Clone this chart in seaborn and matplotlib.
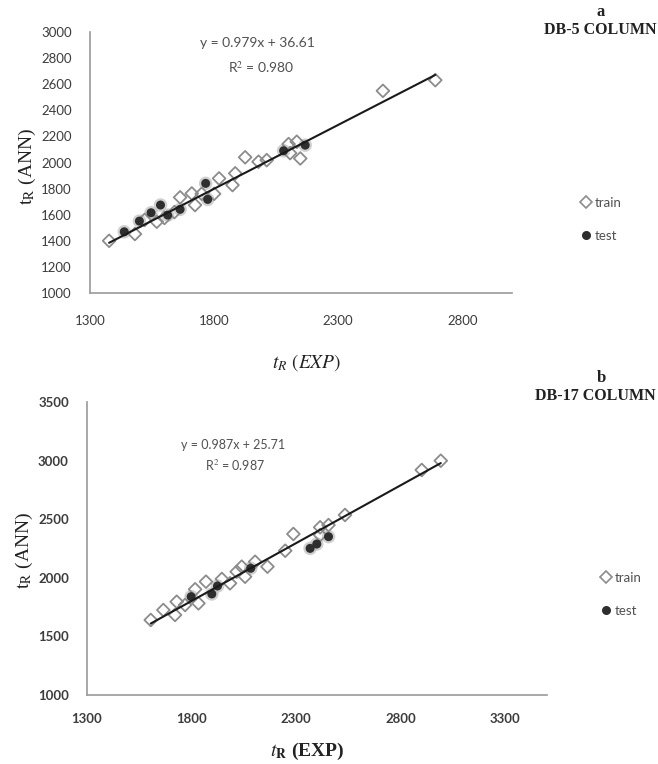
import numpy as np
import pandas as pd
import matplotlib
matplotlib.use("Agg")
import matplotlib.pyplot as plt
from matplotlib.lines import Line2D
import seaborn as sns

# ---------------- data ----------------
# Panel a : DB-5 column
a_train_exp = [1377, 1481, 1520, 1569, 1600, 1640, 1663, 1710, 1723, 1750, 1800, 1820, 1874,
               1885, 1925, 1979, 2012, 2100, 2106, 2133, 2147, 2480, 2691]
a_train_ann = [1400, 1452, 1560, 1546, 1575, 1620, 1733, 1763, 1674, 1760, 1760, 1878, 1827,
               1917, 2040, 2006, 2018, 2141, 2072, 2159, 2031, 2549, 2631]
a_test_exp = [1438, 1499, 1546, 1584, 1613, 1663, 1766, 1774, 2080, 2167]
a_test_ann = [1469, 1551, 1615, 1674, 1597, 1641, 1840, 1717, 2090, 2133]
a_slope, a_intercept, a_r2 = 0.979, 36.61, 0.980

# Panel b : DB-17 column
b_train_exp = [1605, 1665, 1721, 1729, 1769, 1817, 1833, 1869, 1945, 1984, 2016, 2040, 2056,
               2104, 2163, 2248, 2287, 2415, 2415, 2455, 2534, 2901, 2992]
b_train_ann = [1640, 1725, 1683, 1796, 1768, 1902, 1782, 1967, 1990, 1953, 2052, 2095, 2009,
               2137, 2095, 2231, 2374, 2431, 2365, 2450, 2536, 2920, 2999]
b_test_exp = [1798, 1897, 1924, 2083, 2367, 2399, 2455]
b_test_ann = [1839, 1862, 1930, 2081, 2251, 2288, 2351]
b_slope, b_intercept, b_r2 = 0.987, 25.71, 0.987

a_xticks = [1300, 1800, 2300, 2800]
a_yticks = [1000, 1200, 1400, 1600, 1800, 2000, 2200, 2400, 2600, 2800, 3000]
b_xticks = [1300, 1800, 2300, 2800, 3300]
b_yticks = [1000, 1500, 2000, 2500, 3000, 3500]

# ---------------- style ----------------
sns.set_theme(style="white")
plt.rcParams['font.family'] = ['Lato', 'DejaVu Sans']
plt.rcParams['mathtext.fontset'] = 'stix'

W, H = 658, 764
fig = plt.figure(figsize=(W / 100, H / 100), dpi=100)
fig.patch.set_facecolor('white')

def px_axes(l, r, t, b):
    return fig.add_axes([l / W, 1 - b / H, (r - l) / W, (b - t) / H])

ax_a = px_axes(90, 512, 32, 293)
ax_b = px_axes(87, 547, 402, 695)

TRAIN_EDGE = '#8c8c8c'
TEST_FACE = '#2e2e2e'
TEXT_GRAY = '#505050'
SPINE = '#9a9a9a'

def panel(ax, tr_x, tr_y, te_x, te_y, slope, intercept, xlim, ylim, xticks, yticks,
          bold_ticks):
    df_tr = pd.DataFrame({'exp': tr_x, 'ann': tr_y})
    df_te = pd.DataFrame({'exp': te_x, 'ann': te_y})
    # soft halo behind test points (scanned look)
    sns.scatterplot(data=df_te, x='exp', y='ann', ax=ax, marker='o', s=95,
                    color='#bdbdbd', edgecolor='none', alpha=0.7, zorder=2, legend=False)
    sns.scatterplot(data=df_tr, x='exp', y='ann', ax=ax, marker='D', s=42,
                    facecolor='none', edgecolor=TRAIN_EDGE, linewidth=1.3, zorder=3,
                    legend=False)
    sns.scatterplot(data=df_te, x='exp', y='ann', ax=ax, marker='o', s=42,
                    color=TEST_FACE, edgecolor='none', zorder=4, legend=False)
    allx = np.array(list(tr_x) + list(te_x))
    lx = np.array([allx.min(), allx.max()])
    ax.plot(lx, slope * lx + intercept, color='#1a1a1a', lw=1.5, zorder=5)
    ax.set_xlim(*xlim)
    ax.set_ylim(*ylim)
    ax.set_xticks(xticks)
    ax.set_yticks(yticks)
    for s in ['top', 'right']:
        ax.spines[s].set_visible(False)
    for s in ['left', 'bottom']:
        ax.spines[s].set_color(SPINE)
        ax.spines[s].set_linewidth(1.2)
    ax.set_facecolor('white')
    ax.grid(False)
    w = 'bold' if bold_ticks else 'normal'
    ax.tick_params(axis='both', length=0, labelsize=9.5, labelcolor='#3c3c3c')
    ax.tick_params(axis='y', pad=13)
    ax.tick_params(axis='x', pad=16 if not bold_ticks else 13)
    for lab in ax.get_xticklabels() + ax.get_yticklabels():
        lab.set_fontweight(w)

panel(ax_a, a_train_exp, a_train_ann, a_test_exp, a_test_ann, a_slope, a_intercept,
      (1300, 3000), (1000, 3000), a_xticks, a_yticks, False)
panel(ax_b, b_train_exp, b_train_ann, b_test_exp, b_test_ann, b_slope, b_intercept,
      (1300, 3500), (1000, 3500), b_xticks, b_yticks, True)

serif = ['Liberation Serif', 'DejaVu Serif']

# axis labels
ax_a.set_ylabel(r'$\mathrm{t_R}$ (ANN)', family=serif, fontsize=14, color='#222222')
ax_a.yaxis.set_label_coords(-0.123, 0.483)
ax_a.set_xlabel(r'$t_R$ $(EXP)$', family=serif, fontsize=14, color='#222222')
ax_a.xaxis.set_label_coords(0.514, -0.226)

ax_b.set_ylabel(r'$\mathrm{t_R}$ (ANN)', family=serif, fontsize=14, color='#222222')
ax_b.yaxis.set_label_coords(-0.113, 0.495)
ax_b.set_xlabel(r'$t_\mathbf{R}$ (EXP)', family=serif, fontsize=14, fontweight='bold',
                color='#222222')
ax_b.xaxis.set_label_coords(0.478, -0.157)

# equations
fig.text(257 / W, 1 - 43 / H, f'y = {a_slope:.3f}x + {a_intercept:.2f}', ha='center',
         va='center', fontsize=10, color=TEXT_GRAY)
fig.text(261 / W, 1 - 67 / H, f'R$^2$ = {a_r2:.3f}', ha='center', va='center',
         fontsize=10, color=TEXT_GRAY)
fig.text(233 / W, 1 - 445 / H, f'y = {b_slope:.3f}x + {b_intercept:.2f}', ha='center',
         va='center', fontsize=9, color=TEXT_GRAY)
fig.text(235 / W, 1 - 465 / H, f'R$^2$ = {b_r2:.3f}', ha='center', va='center',
         fontsize=9, color=TEXT_GRAY)

# panel titles
fig.text(601 / W, 1 - 12 / H, 'a', ha='center', va='center', family=serif,
         fontsize=12, fontweight='bold', color='#222222')
fig.text(656 / W, 1 - 30 / H, 'DB-5 COLUMN', ha='right', va='center', family=serif,
         fontsize=11.5, fontweight='bold', color='#222222')
fig.text(601 / W, 1 - 378 / H, 'b', ha='center', va='center', family=serif,
         fontsize=12, fontweight='bold', color='#222222')
fig.text(656 / W, 1 - 396 / H, 'DB-17 COLUMN', ha='right', va='center', family=serif,
         fontsize=11.5, fontweight='bold', color='#222222')

# legends
def make_legend(ax, x, y):
    handles = [Line2D([], [], marker='D', ls='none', markersize=6.5, markerfacecolor='none',
                      markeredgecolor=TRAIN_EDGE, markeredgewidth=1.2, label='train'),
               Line2D([], [], marker='o', ls='none', markersize=6.5,
                      markerfacecolor=TEST_FACE, markeredgecolor='none', label='test')]
    leg = ax.legend(handles=handles, loc='upper left', bbox_to_anchor=(x / W, 1 - y / H),
                    bbox_transform=fig.transFigure, frameon=False, fontsize=9.5,
                    handlelength=0.8, handletextpad=0.3, labelspacing=1.6, borderpad=0)
    for t in leg.get_texts():
        t.set_color(TEXT_GRAY)

make_legend(ax_a, 574, 190)
make_legend(ax_b, 594, 565)

fig.savefig('out.png', dpi=100, facecolor='white')
